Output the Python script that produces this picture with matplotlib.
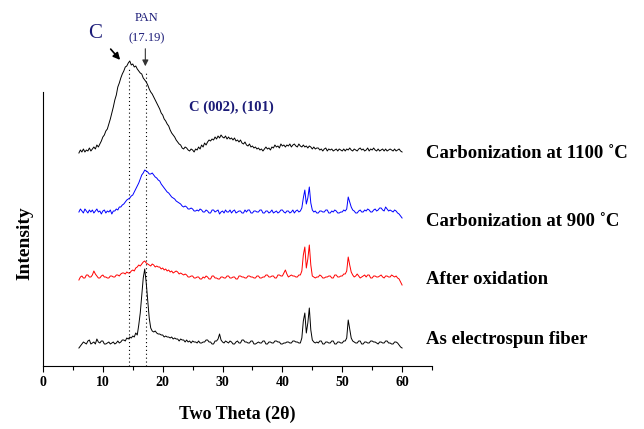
import matplotlib.pyplot as plt
import numpy as np

plt.rcParams["font.family"] = ["Liberation Serif", "DejaVu Serif"]

# sample grid (two theta, degrees)
two_theta = np.arange(6.0, 60.001, 0.25)

# intensities (arbitrary units, relative to each trace baseline)
carb_1100 = [
    -3, 0, -2, 1, -2, 0, -1, 2, -1, 1, 3, 1, 5, 3, 6, 9, 13, 15, 19, 21,
    26, 31, 37, 43, 50, 55, 63, 67, 72, 76, 79, 83, 84, 87, 89, 85, 86, 83, 84, 81,
    79, 77, 76, 72, 70, 68, 65, 61, 58, 56, 53, 50, 47, 44, 41, 37, 35, 31, 29, 26,
    24, 20, 17, 15, 13, 10, 8, 6, 5, 2, 1, 3, 2, 0, -1, 1, 0, -2, 1, 0,
    3, 1, 5, 3, 7, 5, 8, 10, 9, 11, 10, 13, 11, 14, 12, 15, 13, 12, 14, 11,
    13, 11, 12, 10, 12, 9, 10, 8, 10, 7, 6, 8, 5, 4, 6, 3, 4, 2, 3, 1,
    2, 0, 1, -1, 1, 3, 1, 2, 0, 3, 2, 5, 3, 4, 2, 6, 4, 5, 3, 5,
    4, 6, 3, 5, 6, 4, 3, 6, 4, 3, 5, 3, 4, 2, 4, 3, 1, 3, 1, 2,
    2, 0, 1, -1, 1, 2, -1, 1, 0, 1, -1, 0, 1, -1, 1, 0, -1, 1, -1, 1,
    0, 2, 0, -1, 1, 0, -1, 1, 2, 0, 1, -1, 0, 2, -1, 1, 0, 2, 0, -1,
    1, -1, 0, 1, -1, 1, -1, 0, 1, 0, -1, 1, -1, 0, 1, -1, -2,
]
carb_900 = [
    0, 3, 1, -1, 3, 1, -1, 2, 0, 2, -1, 1, 3, 0, 1, -2, 1, 2, -1, 1,
    0, 2, -2, 1, 1, 3, 2, 5, 5, 7, 8, 10, 12, 13, 14, 16, 17, 20, 23, 26,
    29, 33, 37, 39, 42, 41, 40, 38, 38, 39, 37, 35, 34, 32, 31, 28, 26, 24, 22, 20,
    19, 17, 15, 14, 13, 11, 10, 9, 8, 6, 5, 6, 5, 3, 3, 4, 3, 1, 1, 2,
    1, 3, 2, 0, 0, 2, 1, -1, -1, 2, 2, 0, 1, 2, -2, 0, 1, -1, 2, 0,
    0, 2, -1, 1, 2, -1, 0, 1, 1, -1, -1, 2, 0, 2, 2, -1, -1, 1, 1, 0,
    0, 2, 2, -1, -1, 1, 1, -1, 0, 2, -1, 0, 1, -1, 0, 2, 2, 0, -1, 1,
    1, -1, 0, 2, -1, 1, 2, 0, 1, 4, 14, 22, 8, 14, 25, 9, 2, 0, 1, -1,
    -1, 1, 1, 0, 0, 2, 2, -1, -1, 1, 0, 2, 1, -1, -1, 0, 0, 2, 1, 3,
    15, 10, 5, 2, 1, -1, -1, 1, 2, 0, 0, 2, 1, 3, 2, 0, 0, 2, 3, 1,
    2, 4, 4, 2, 1, 5, 3, 1, 2, 1, 0, 2, 1, -1, -2, -4, -6,
]
oxidation = [
    -3, 0, 1, -1, -1, 2, 2, 0, 0, 2, 6, 3, 1, -1, -1, 1, 2, 0, 0, -1,
    -1, 1, 1, 0, 0, 2, 2, 1, 3, 4, 4, 3, 5, 4, 4, 6, 7, 6, 9, 10,
    12, 11, 13, 15, 16, 14, 13, 12, 11, 13, 12, 10, 11, 10, 10, 8, 9, 7, 8, 6,
    7, 5, 6, 4, 5, 6, 5, 3, 4, 3, 2, 3, 2, 0, 0, 1, 1, -1, -1, 0,
    0, -2, -2, 0, -1, 1, 0, -2, -2, 1, 1, -1, -1, -2, -2, 0, 0, -1, -1, 1,
    1, -1, -1, 0, 0, -2, -2, 1, 1, 0, 0, -1, -1, 1, 1, 0, 0, -1, -1, 1,
    1, -1, -1, 0, 0, 2, 2, 0, 0, 1, 1, -1, -1, 2, 2, 1, 1, 4, 7, 3,
    0, 1, 2, 1, 1, 0, 0, 2, 2, 6, 22, 30, 9, 18, 32, 12, 1, 0, -1, 0,
    0, 2, 1, -1, -1, 0, 0, 1, 1, -1, -1, 2, 2, 0, 0, 1, 1, 3, 3, 6,
    20, 12, 5, 2, 0, 1, 3, 1, -1, 0, 1, 2, 0, 2, 2, -1, -1, 1, 1, 0,
    0, 1, 2, 0, -1, 1, 1, 0, 0, 2, 1, 0, 1, -1, -2, -5, -8,
]
electrospun = [
    -5, -3, -1, 1, 0, -1, 2, 3, -1, 0, 1, -1, 4, 1, 0, 2, 2, -1, -1, 0,
    1, -1, 0, 1, -1, 0, 2, 0, 1, 3, 3, 2, 5, 4, 6, 5, 7, 6, 10, 8,
    18, 30, 48, 65, 74, 60, 43, 25, 15, 12, 11, 12, 10, 9, 9, 8, 8, 6, 7, 6,
    6, 5, 6, 4, 5, 4, 4, 2, 4, 3, 3, 1, 3, 1, 2, 0, 2, 1, 1, 0,
    2, 0, 0, 1, 1, 3, 3, 1, 1, -1, -1, 2, 2, 4, 9, 3, 1, 0, 2, 1,
    0, 2, 1, -1, -1, 1, 2, 0, 0, 3, 3, 1, 1, 0, 0, 2, 2, -1, -1, 0,
    1, 0, 0, 2, 2, -1, -1, 1, 1, 0, 0, 2, 2, 1, 1, -1, -1, 0, 0, 1,
    1, 0, 0, 2, 2, 1, 1, 0, 0, 5, 22, 30, 10, 20, 35, 13, 3, 1, 0, 1,
    0, 2, 2, -1, -1, 1, 1, 0, 0, 2, 2, -1, -1, 1, 1, 0, 0, 2, 2, 5,
    23, 14, 5, 2, 1, 0, 0, 2, 2, -1, -1, 1, 1, 0, 0, 2, 2, 1, 1, 0,
    -1, 1, 1, 0, 0, 2, 2, 0, 0, -1, -1, 1, 1, 0, -2, -4, -5,
]

series = [carb_1100, carb_900, oxidation, electrospun]
labels = ["Carbonization at 1100 \u02daC", "Carbonization at 900 \u02daC",
          "After oxidation", "As electrospun fiber"]
colors = ["black", "#0000ff", "#ff0000", "black"]
offsets = [216, 154, 89, 23]
label_y = [213, 145, 86, 27]

navy = "#1c1c78"

fig = plt.figure(figsize=(6.44, 4.29), dpi=100)
ax = fig.add_axes([43 / 644, 63 / 429, 389 / 644, 356 / 429])

# dotted reference lines (C and PAN)
ax.vlines([14.3, 17.19], 0, [298, 295], colors="black", linestyles=(0, (1, 2.5)), lw=0.8)

for vals, col, off, lab, ly in zip(series, colors, offsets, labels, label_y):
    ax.plot(two_theta, np.array(vals) + off, color=col, lw=0.7)
    ax.text(64.0, ly, lab, fontsize=13.5, fontweight="bold", va="center", ha="left")

# annotations
ax.text(8.7, 332, "C", fontsize=15, color=navy, ha="center", va="center")
ax.annotate("", xy=(13.2, 304), xytext=(11.0, 319),
            arrowprops=dict(arrowstyle="-|>", color="black", lw=1.2, mutation_scale=10))
ax.text(17.25, 348, "PAN", fontsize=9, color=navy, ha="center", va="center")
ax.text(17.25, 328, "(17.19)", fontsize=9, color=navy, ha="center", va="center")
ax.annotate("", xy=(17.1, 297), xytext=(17.1, 320),
            arrowprops=dict(arrowstyle="-|>", color="#333333", lw=0.8, mutation_scale=9))
ax.text(31.5, 259, "C (002), (101)", fontsize=10.5, fontweight="bold", color=navy,
        ha="center", va="center")

ax.set_xlim(0, 65)
ax.set_ylim(0, 356)
ax.set_xticks(np.arange(0, 61, 10))
ax.set_xticks(np.arange(5, 66, 10), minor=True)
ax.set_yticks([])
for lbl in ax.get_xticklabels():
    lbl.set_fontweight("bold")
ax.tick_params(axis="x", which="major", direction="out", length=4, width=0.8,
               labelsize=10, pad=3)
ax.tick_params(axis="x", which="minor", direction="out", length=3, width=0.8)

ax.spines["top"].set_visible(False)
ax.spines["right"].set_visible(False)
ax.spines["left"].set_bounds(0, 274)

ax.set_xlabel("Two Theta (2\u03b8)", fontsize=13, fontweight="bold", va="center")
ax.xaxis.set_label_coords(0.5, -48 / 356)
ax.set_ylabel("Intensity", fontsize=14, fontweight="bold", va="center")
ax.yaxis.set_label_coords(-18 / 389, 123 / 356)

fig.savefig("out.png", dpi=100)
